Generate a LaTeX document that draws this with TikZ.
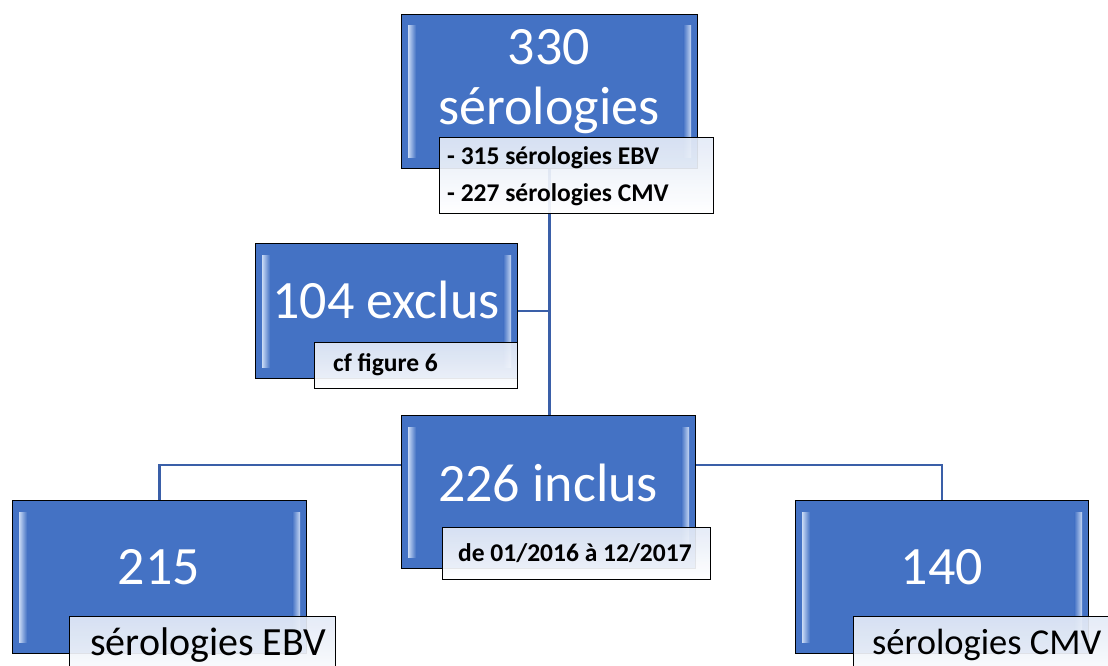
\documentclass[tikz,border=0pt]{standalone}
\usepackage{fontspec}
\setmainfont{Carlito}
\usetikzlibrary{backgrounds}
\definecolor{boxblue}{HTML}{4472C4}
\definecolor{lineblue}{HTML}{3A5FA8}
\definecolor{hilite}{HTML}{C9DAF5}
\newcommand\bevelbox[1]{%
  \fill[left color=hilite, right color=boxblue] ([xshift=7,yshift=-12]#1.north west) rectangle ([xshift=15,yshift=12]#1.south west);
  \fill[left color=boxblue, right color=hilite] ([xshift=-15,yshift=-12]#1.north east) rectangle ([xshift=-7,yshift=12]#1.south east);
}
\begin{document}
\begin{tikzpicture}[x=1pt,y=-1pt,
  bluebox/.style={draw=black, line width=1.2pt, fill=boxblue, anchor=north west, inner sep=0pt},
  subbox/.style={draw=black, line width=1.2pt, top color=white!85!boxblue, bottom color=white, anchor=north west, inner sep=0pt, fill opacity=0.92},
  bigtxt/.style={text=white, font=\fontsize{54}{60}\selectfont, inner sep=0pt, align=center},
  subtxt/.style={font=\bfseries\fontsize{25.5}{28}\selectfont, inner sep=0pt, anchor=west},
  regtxt/.style={font=\fontsize{40}{44}\selectfont, inner sep=0pt, anchor=west},
  link/.style={draw=lineblue, line width=2.5pt}]
\useasboundingbox (0,0) rectangle (1108,666);

% boxes
\node[bluebox, minimum width=296, minimum height=154] (top) at (401,14) {};
\node[bluebox, minimum width=262, minimum height=135] (exclus) at (255,243) {};
\node[bluebox, minimum width=294, minimum height=153] (inclus) at (401,415) {};
\node[bluebox, minimum width=294, minimum height=153] (ebv) at (12,500) {};
\node[bluebox, minimum width=293, minimum height=153] (cmv) at (795,500) {};
\bevelbox{top}
\bevelbox{exclus}
\bevelbox{inclus}
\bevelbox{ebv}
\bevelbox{cmv}

% connectors
\begin{pgfonlayer}{background}
\draw[link] (top.south) -- (top.south |- inclus.north);
\draw[link] (exclus.east) -- (exclus.east -| top.south);
\draw[link] ([yshift=27]inclus.west) -| (ebv.north);
\draw[link] ([yshift=27]inclus.east) -| (cmv.north);
\end{pgfonlayer}

% sub boxes
\node[subbox, minimum width=274, minimum height=76] (topsub) at (439,137) {};
\node[subbox, minimum width=203, minimum height=46] (exclsub) at (314,342) {};
\node[subbox, minimum width=268, minimum height=52] (inclsub) at (442,527) {};
\node[subbox, minimum width=266, minimum height=70] (ebvsub) at (69,616) {};
\node[subbox, minimum width=270, minimum height=70] (cmvsub) at (853,616) {};

% texts
\node[bigtxt] (t330) at (549,82) {330\\sérologies};
\node[bigtxt] (t104) at (386,300) {104 exclus};
\node[bigtxt] (t226) at (548,483) {226 inclus};
\node[bigtxt] (t215) at (159,567) {215};
\node[bigtxt] (t140) at (942,567) {140};

\node[subtxt] (s1) at (447,158) {- 315 sérologies EBV};
\node[subtxt] (s2) at (447,195) {- 227 sérologies CMV};
\node[subtxt] (s3) at (333,365) {cf figure 6};
\node[subtxt] (s4) at (458,553) {de 01/2016 à 12/2017};
\node[regtxt] (s5) at (90,645) {sérologies EBV};
\node[regtxt, font=\fontsize{36.5}{40}\selectfont] (s6) at (872,645) {sérologies CMV};
\end{tikzpicture}
\end{document}
